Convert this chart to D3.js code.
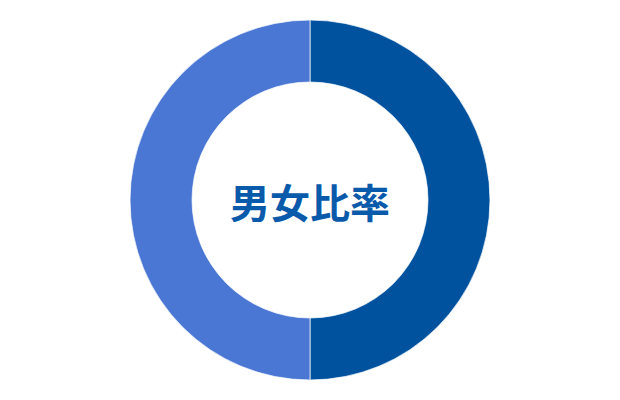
<!DOCTYPE html>
<html><head><meta charset="utf-8">
<script src="https://cdn.jsdelivr.net/npm/d3@7"></script>
<style>html,body{margin:0;padding:0;background:#fff;}</style>
</head><body>
<svg id="chart" width="620" height="400"></svg>
<script>
const categories = ["男性", "女性"];
const values = [50, 50];
const colors = ["#00529f", "#4a76d4"];
const title = "男女比率";

const svg = d3.select("#chart");
const cx = 310, cy = 200, outerR = 180, innerR = 118;
const g = svg.append("g").attr("transform", `translate(${cx},${cy})`);
const pie = d3.pie().sort(null).value(d => d.v);
const arc = d3.arc().innerRadius(innerR).outerRadius(outerR);
const data = categories.map((c, i) => ({c, v: values[i]}));
const color = d3.scaleOrdinal().domain(categories).range(colors);
g.selectAll("path").data(pie(data)).join("path")
  .attr("d", arc)
  .attr("fill", d => color(d.data.c))
  .attr("stroke", "#fff")
  .attr("stroke-width", 0.7);
g.append("text")
  .attr("text-anchor", "middle")
  .attr("dominant-baseline", "central")
  .attr("y", 1)
  .attr("font-family", "'Noto Sans CJK JP', 'Noto Sans', sans-serif")
  .attr("font-weight", "bold")
  .attr("font-size", 40)
  .attr("fill", "#0a5aab")
  .text(title);
</script>
</body></html>
